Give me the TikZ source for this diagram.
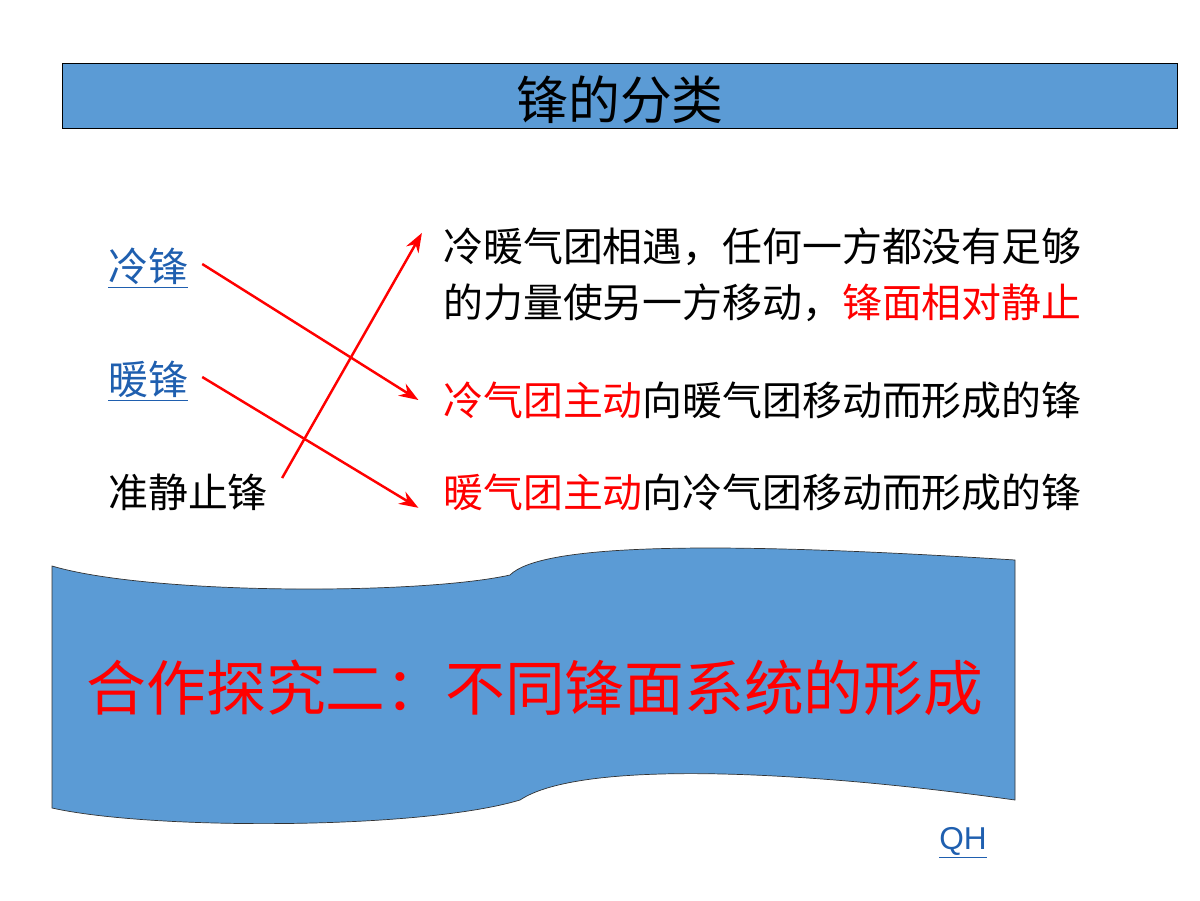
\documentclass[tikz,border=0pt]{standalone}
\usepackage{fontspec}
\setmainfont{Liberation Sans}
\newfontfamily\cjk{Noto Sans CJK SC}
\usetikzlibrary{arrows.meta}
\definecolor{barblue}{HTML}{5B9BD5}
\definecolor{linkblue}{HTML}{1F5FAF}
\begin{document}
\begin{tikzpicture}[x=0.02cm,y=-0.02cm]

\tikzset{
    txt/.style = {font=\cjk\fontsize{22.7}{28}\selectfont, inner sep=0pt},
    linktxt/.style = {txt, text=linkblue},
    link/.style = {red, line width=1.4pt, -{Stealth[length=11pt,width=8pt]}}
}

\useasboundingbox (0,0) rectangle (1200,900);

\draw[fill=barblue] (62,63) rectangle (1177,128);
\node (title) [txt, font=\cjk\fontsize{29.5}{34}\selectfont] at (620,100) {锋的分类};

% left column
\node (cold) [linktxt] at (148,268) {\underline{冷锋}};
\node (warm) [linktxt] at (148,381) {\underline{暖锋}};
\node (stat) [txt] at (188,492) {准静止锋};

% right column
\node (d1) [txt, anchor=west] at (443,247) {冷暖气团相遇，任何一方都没有足够};
\node (d2) [txt, anchor=west] at (443,303) {的力量使另一方移动，\textcolor{red}{锋面相对静止}};
\node (d3) [txt, anchor=west] at (443,400) {\textcolor{red}{冷气团主动}向暖气团移动而形成的锋};
\node (d4) [txt, anchor=west] at (443,492) {\textcolor{red}{暖气团主动}向冷气团移动而形成的锋};

\draw[link] (cold.east)++(14,-4) -- ([xshift=-14pt]d3.west);
\draw[link] (warm.east)++(14,-4) -- ([xshift=-14pt,yshift=-9pt]d4.west);
\draw[link] (stat.east)++(14,-14) -- ([xshift=-12pt,yshift=8pt]d1.west);

% wave banner
\draw[fill=barblue, draw=black!80, thin] (52,566) .. controls (150,595) and (420,595) .. (510,575)
    .. controls (540,545) and (700,540) .. (1015,560)
    -- (1015,800) .. controls (800,770) and (580,760) .. (520,800)
    .. controls (420,830) and (150,830) .. (52,808) -- cycle;
\node (task) [txt, text=red, font=\cjk\fontsize{34}{40}\selectfont] at (535,688) {合作探究二：不同锋面系统的形成};

\node (qh) [text=linkblue, font=\fontsize{18}{22}\selectfont] at (963,843) {\underline{QH}};

\end{tikzpicture}
\end{document}
